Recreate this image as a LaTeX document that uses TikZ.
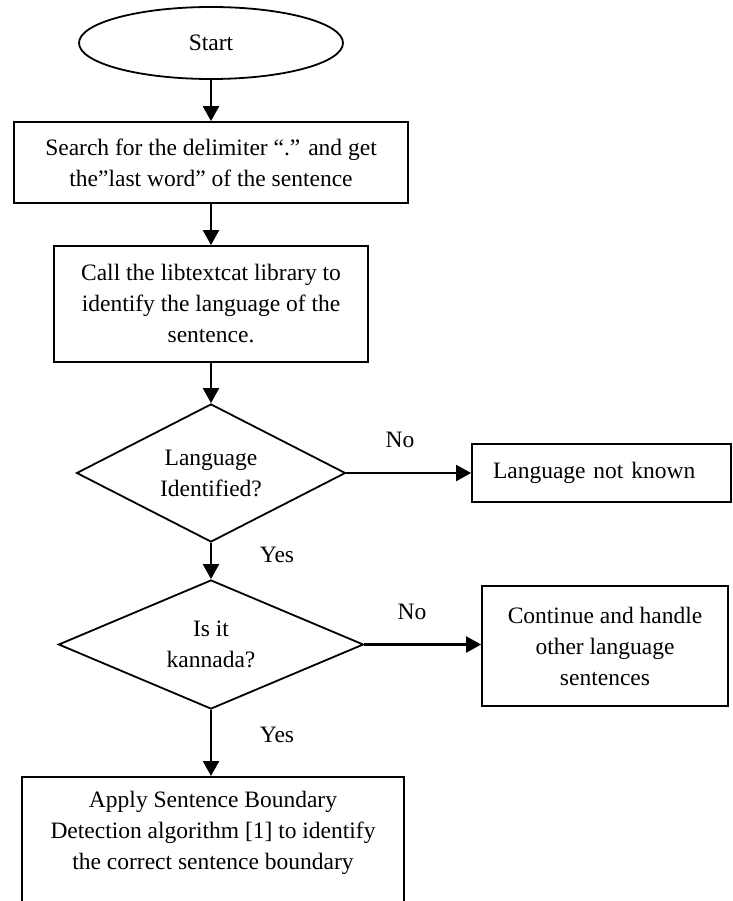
\documentclass[tikz,border=0pt]{standalone}
\usepackage{fontspec}
\setmainfont{Liberation Serif}
\usetikzlibrary{shapes.geometric,arrows.meta}
\begin{document}
\begin{tikzpicture}[x=1pt,y=-1pt,
  every node/.style={font=\fontsize{23.5}{31}\selectfont},
  box/.style={draw,line width=1.8pt,rectangle,inner sep=0pt,align=center},
  dec/.style={draw,line width=1.8pt,diamond,aspect=2,inner sep=0pt,align=center},
  term/.style={draw,line width=1.8pt,ellipse,inner sep=0pt},
  arr/.style={line width=2.2pt,-{Triangle[length=15pt,width=16pt]}},
  lbl/.style={inner sep=0pt}]
\useasboundingbox (0,0) rectangle (732,901);
\clip (0,0) rectangle (732,901);
\node[term,minimum width=264pt,minimum height=72pt] (start) at (211,43) {Start};
\node[box,minimum width=394pt,minimum height=81pt] (b1) at (211,162.5)
  {Search for the delimiter “.” and get\\the”last word” of the sentence};
\node[box,minimum width=314pt,minimum height=116pt] (b2) at (211,304)
  {Call the libtextcat library to\\identify the language of the\\sentence.};
\node[dec,minimum width=269pt,minimum height=138pt] (d1) at (211,473)
  {Language\\Identified?};
\node[box,align=left,text width=217pt,inner xsep=21pt,minimum height=58pt] (lnk) at (601.5,473)
  {Language not known};
\node[dec,minimum width=305pt,minimum height=129pt] (d2) at (211,644.5)
  {Is it\\kannada?};
\node[box,minimum width=246pt,minimum height=120pt] (b3) at (605,646)
  {Continue and handle\\other language\\sentences};
\node[box,anchor=north,minimum width=382pt,minimum height=200pt] (b4) at (213,776) {};
\node[lbl,align=center] (b4t) at (213,833)
  {Apply Sentence Boundary\\Detection algorithm [1] to identify\\the correct sentence boundary};
\node[lbl] (no1) at (400,440) {No};
\node[lbl] (yes1) at (277,555) {Yes};
\node[lbl] (no2) at (412,612) {No};
\node[lbl] (yes2) at (277,735) {Yes};
\draw[arr] (start.south -| b1.north) -- (b1.north);
\draw[arr] (b1.south -| b2.north) -- (b2.north);
\draw[arr] (b2.south) -- (d1.north);
\draw[arr] (d1.east) -- (lnk.west);
\draw[arr] (d1.south) -- (d2.north);
\draw[arr] (d2.east) -- (d2.east -| b3.west);
\draw[arr] (d2.south) -- (d2.south |- b4.north);
\end{tikzpicture}
\end{document}
